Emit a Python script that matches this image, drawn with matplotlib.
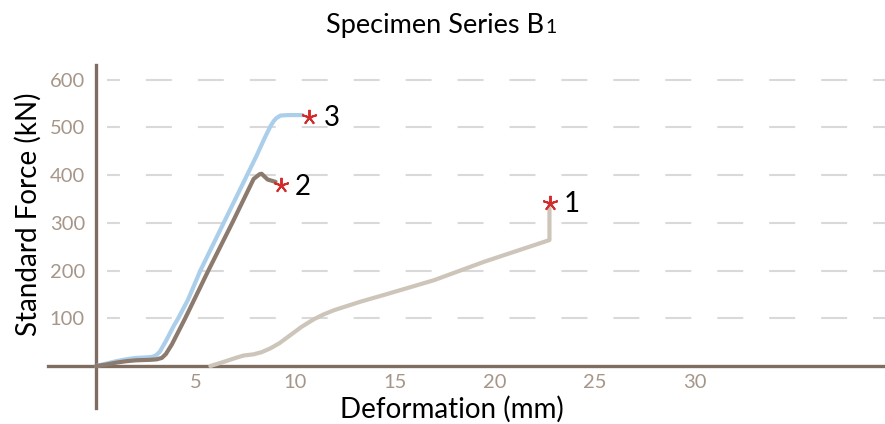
import matplotlib
matplotlib.use("Agg")
import matplotlib.pyplot as plt

plt.rcParams['lines.scale_dashes'] = False

# ---- data ----
s3_x = [0, 0.5, 1.0, 1.5, 2.0, 2.5, 2.8, 3.0, 3.2, 3.5, 3.87, 4.12, 4.6, 5.23, 6.4, 7.57, 8.04, 8.5, 8.75, 8.9, 9.05, 9.25, 9.6, 10.35]
s3_y = [0, 5, 10, 14, 17, 18, 19, 22, 30, 52, 82, 100, 138, 200, 300, 400, 440, 482, 503, 513, 520, 525, 526, 526]

s2_x = [0, 0.5, 1.0, 1.5, 2.0, 2.7, 3.04, 3.3, 3.5, 3.8, 4.47, 5.63, 6.83, 7.9, 8.2, 8.3, 8.6, 9.0]
s2_y = [0, 3, 7, 10, 12, 13, 14, 17, 25, 45, 100, 200, 300, 392, 402, 403, 391, 386]

s1_x = [5.73, 6.5, 7.0, 7.4, 7.9, 8.3, 8.74, 9.2, 9.75, 10.3, 10.92, 11.4, 11.93, 13.27, 14.6, 16.95, 19.46, 22.73, 22.73]
s1_y = [0, 10, 17, 22, 24.5, 29, 37, 48, 65, 82, 98, 108, 117, 135, 151, 180, 218.6, 264, 337]

fail_x = [22.75, 9.25, 10.7]
fail_y = [342, 379, 523]
fail_labels = ["1", "2", "3"]

x_ticks = [5, 10, 15, 20, 25, 30]
y_ticks = [100, 200, 300, 400, 500, 600]

# ---- styles ----
AXIS_C = '#7f6d62'
TICK_C = '#a69689'
GRID_C = '#d9d9d9'
C1 = '#cdc5ba'
C2 = '#8b7a6d'
C3 = '#abcfeb'
RED = '#d22b2b'

W, H = 885, 424
fig = plt.figure(figsize=(W / 100, H / 100), dpi=100)
ax = fig.add_axes([48 / W, 1 - 408 / H, 1 - 48 / W, (408 - 65) / H])
ax.set_xlim(-2.406, 39.55)
ax.set_ylim(-88.0, 631.0)

# gridlines
for yv in y_ticks:
    ax.hlines(yv, 0.55, 39.55, colors=GRID_C, linewidth=1.5,
              linestyles=(9.4, (18.7, 18.7)), zorder=1)

kw = dict(lw=3.0, solid_joinstyle='round', solid_capstyle='round')
ax.plot(s1_x, s1_y, color=C1, zorder=3, **kw)
ax.plot(s2_x, s2_y, color=C2, zorder=4, **kw)
ax.plot(s3_x, s3_y, color=C3, zorder=3, **kw)

ax.plot(fail_x, fail_y, linestyle='none', marker=(5, 2, 0), markersize=11,
        markeredgewidth=1.4, color=RED, zorder=5)
for fx, fy, lab in zip(fail_x, fail_y, fail_labels):
    ax.annotate(lab, (fx, fy), xytext=(16, -1), textcoords='offset points',
                ha='center', va='center', fontsize=20, family='Lato', color='black')

for s in ['top', 'right']:
    ax.spines[s].set_visible(False)
for s in ['left', 'bottom']:
    ax.spines[s].set_position(('data', 0))
    ax.spines[s].set_color(AXIS_C)
    ax.spines[s].set_linewidth(2.4)
ax.spines['left'].set_bounds(-88, 631)
ax.spines['bottom'].set_bounds(-2.406, 39.55)

ax.set_xticks(x_ticks)
ax.set_yticks(y_ticks)
ax.tick_params(length=0, labelcolor=TICK_C, labelsize=14.5)
ax.tick_params(axis='x', pad=6)
ax.tick_params(axis='y', pad=8)
for lbl in ax.get_xticklabels() + ax.get_yticklabels():
    lbl.set_family('Lato')
    lbl.set_fontweight('normal')
ax.patch.set_visible(False)

fig.text(28 / W, 1 - 214 / H, 'Standard Force (kN)', rotation=90, ha='center', va='center',
         fontsize=20, family='Lato', color='black')
fig.text(452 / W, 1 - 418 / H, 'Deformation (mm)', ha='center', va='baseline',
         fontsize=20, family='Lato', color='black')

t1 = fig.text(435 / W, 1 - 33 / H, 'Specimen Series B', ha='center', va='baseline',
              fontsize=19.5, family='Lato', color='black')
fig.canvas.draw()
bb = t1.get_window_extent()
fig.text((bb.x1 + 1) / W, 1 - 33 / H, '1', ha='left', va='baseline',
         fontsize=14, family='Lato', color='black')

fig.savefig('out.png', dpi=100)
